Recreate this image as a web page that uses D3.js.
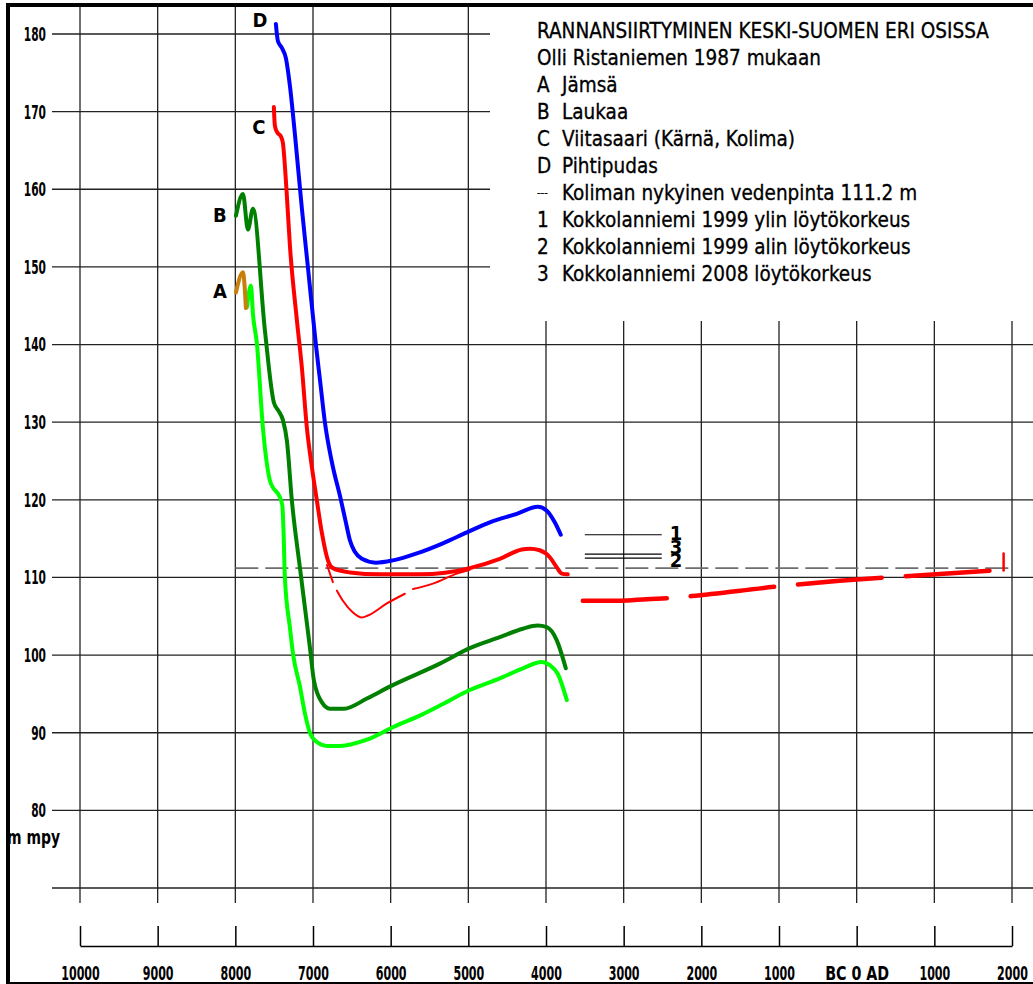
<!DOCTYPE html>
<html>
<head>
<meta charset="utf-8">
<script src="https://cdn.jsdelivr.net/npm/d3@7"></script>
<style>
  body { margin: 0; background: #fff; }
  svg { display: block; }
  .lbl { font-family: "DejaVu Sans Condensed", "DejaVu Sans", sans-serif; font-weight: bold; font-size: 20px; }
  .leg { font-family: "DejaVu Sans Condensed", "DejaVu Sans", sans-serif; font-size: 20.5px; stroke: #000; stroke-width: 0.3px; }
</style>
</head>
<body>
<div id="chart"></div>
<script>
const WIDTH = 1033;
const HEIGHT = 984;

// years: positive = BC, negative = AD
const X_TICKS = [10000, 9000, 8000, 7000, 6000, 5000, 4000, 3000, 2000, 1000, 0, -1000, -2000];
const Y_GRID = [70, 80, 90, 100, 110, 120, 130, 140, 150, 160, 170, 180];
const Y_LABELS = [80, 90, 100, 110, 120, 130, 140, 150, 160, 170, 180];

// [year BC, metres above sea level]
const jamsaOld = [[7992, 146.7], [7902, 149.3], [7864, 144.7]];
const jamsa = [[7851, 144.8], [7799, 147.6], [7773, 143.9], [7722, 140.1], [7645, 129.3], [7555, 122.5],
  [7517, 121.6], [7440, 120.6], [7395, 119.3], [7378, 115.5], [7362, 110], [7298, 103.6], [7255, 100],
  [7169, 96.0], [7100, 92.3], [7040, 90.0], [6950, 88.8], [6821, 88.3], [6654, 88.3], [6306, 89.1],
  [5972, 90.7], [5585, 92.4], [5367, 93.5], [4981, 95.5], [4595, 97.0], [4298, 98.3], [4054, 99.1],
  [3951, 98.7], [3849, 97.6], [3732, 94.2]];
const laukaa = [[7992, 156.6], [7902, 159.4], [7838, 154.8], [7773, 157.5], [7619, 141.8], [7503, 132.5],
  [7440, 131.4], [7388, 130.3], [7336, 127.6], [7272, 119.9], [7169, 111.3], [7040, 101], [6988, 96.7],
  [6885, 93.9], [6782, 93.1], [6600, 93.1], [6306, 94.4], [6000, 96.0], [5367, 98.9], [4981, 100.9],
  [4595, 102.3], [4298, 103.4], [4106, 103.8], [3990, 103.6], [3861, 101.9], [3745, 98.3]];
const viitasaari = [[7504, 170.6], [7491, 168.2], [7465, 167.4], [7413, 166.8], [7388, 166.0], [7343, 160.2],
  [7297, 152.7], [7207, 143.1], [7143, 137], [7079, 129.3], [7014, 124.2], [6950, 119.9], [6885, 115.7],
  [6808, 112.2], [6744, 111.2], [6525, 110.65], [6139, 110.4], [5624, 110.4], [5300, 110.6], [4981, 111.2],
  [4595, 112.4], [4311, 113.6], [4208, 113.7], [4080, 113.5], [3951, 112.6], [3861, 111.3], [3797, 110.5],
  [3720, 110.4]];
const viitasaariLow = [[6820, 111.6], [6744, 109.4], null, [6692, 108.3], [6615, 107.0], [6486, 105.5],
  [6371, 104.85], [6293, 105.1], [6049, 106.65], [5817, 107.9], null, [5714, 108.5], [5457, 109.2],
  [5148, 110.5], [4981, 111.0]];
const kolimaLate = [[3526, 107.0], [3050, 107.0], [2700, 107.2], [2381, 107.35], [2124, 107.6], [1004, 108.85],
  [759, 109.1], [-373, 110.0], [-631, 110.15], [-1750, 110.9]];
const kolimaMark = [[-1892, 110.9], [-1892, 113.1]];
const pihtipudas = [[7478, 181.3], [7452, 179.1], [7400, 178.2], [7349, 176.9], [7297, 173.3], [7233, 167.1],
  [7143, 157.5], [7066, 150], [6963, 140], [6905, 135], [6847, 130], [6760, 125], [6641, 120],
  [6577, 117.1], [6525, 114.8], [6461, 113.3], [6371, 112.4], [6190, 111.9], [5972, 112.2], [5663, 113.1],
  [5328, 114.4], [5019, 115.8], [4723, 117.1], [4376, 118.2], [4106, 119.1], [3990, 118.6], [3887, 117.1],
  [3810, 115.5]];

const KOLIMA_LEVEL = 111.2;
const LEVEL_SPAN = [8000, -2000];
const FIND_SPAN = [3500, 2510];
const finds = [["1", 115.5], ["3", 113.0], ["2", 112.5]];

const titleLines = ["RANNANSIIRTYMINEN KESKI-SUOMEN ERI OSISSA", "Olli Ristaniemen 1987 mukaan"];
const legendKeys = ["A", "B", "C", "D", "---", "1", "2", "3"];
const legendTexts = ["Jämsä", "Laukaa", "Viitasaari (Kärnä, Kolima)", "Pihtipudas",
  "Koliman nykyinen vedenpinta 111.2 m", "Kokkolanniemi 1999 ylin löytökorkeus",
  "Kokkolanniemi 1999 alin löytökorkeus", "Kokkolanniemi 2008 löytökorkeus"];

const svg = d3.select('#chart').append('svg')
  .attr('width', WIDTH)
  .attr('height', HEIGHT);

const x = d3.scaleLinear().domain([10000, -2000]).range([80, 1012]);
const y = d3.scaleLinear().domain([70, 180]).range([888, 34]);

// narrow drawing-office digits
function narrow(sel, perChar) {
  sel.each(function () {
    const t = d3.select(this);
    const s = t.text();
    t.attr('textLength', s === 'BC 0 AD' ? 64 : s.length * perChar).attr('lengthAdjust', 'spacingAndGlyphs');
  });
}

// grid
const grid = svg.append('g').attr('stroke', '#222').attr('stroke-width', 1.3);
grid.selectAll('line.h')
  .data(Y_GRID)
  .enter().append('line')
    .attr('x1', 52)
    .attr('x2', d => d >= 150 ? 490 : WIDTH)
    .attr('y1', d => y(d))
    .attr('y2', d => y(d));
grid.selectAll('line.v')
  .data(X_TICKS)
  .enter().append('line')
    .attr('x1', d => x(d))
    .attr('x2', d => x(d))
    .attr('y1', d => d >= 5000 ? 5 : 321)
    .attr('y2', 903);

// present water level of Kolima
svg.append('line')
  .attr('x1', x(LEVEL_SPAN[0])).attr('x2', x(LEVEL_SPAN[1]))
  .attr('y1', y(KOLIMA_LEVEL)).attr('y2', y(KOLIMA_LEVEL))
  .attr('stroke', '#6e6e6e').attr('stroke-width', 1.8)
  .attr('stroke-dasharray', '23 7');

// find heights
svg.selectAll('line.find')
  .data(finds)
  .enter().append('line')
    .attr('x1', x(FIND_SPAN[0])).attr('x2', x(FIND_SPAN[1]))
    .attr('y1', d => y(d[1])).attr('y2', d => y(d[1]))
    .attr('stroke', '#000').attr('stroke-width', 1.2);
svg.selectAll('text.find')
  .data(finds)
  .enter().append('text')
    .attr('class', 'lbl')
    .attr('font-size', '13px')
    .attr('x', x(FIND_SPAN[1]) + 8)
    .attr('y', (d, i) => y(d[1]) + [5, 0, 9][i])
    .text(d => d[0]);

const line = d3.line()
  .defined(d => d != null)
  .x(d => x(d[0]))
  .y(d => y(d[1]));

function drawSeries(data, color, width, dash, curve) {
  svg.append('path')
    .datum(data)
    .attr('fill', 'none')
    .attr('stroke', color)
    .attr('stroke-width', width)
    .attr('stroke-linecap', 'round')
    .attr('stroke-linejoin', 'round')
    .attr('stroke-dasharray', dash || null)
    .attr('d', line.curve(curve || d3.curveMonotoneX)(data));
}

drawSeries(jamsa, '#00ff00', 4);
drawSeries(jamsaOld, '#c8800a', 4);
drawSeries(laukaa, '#008000', 4);
drawSeries(viitasaariLow, '#ff0000', 2);
drawSeries(viitasaari, '#ff0000', 4);
drawSeries(kolimaLate, '#ff0000', 4.5, '84 24');
drawSeries(kolimaMark, '#ff0000', 2.5, null, d3.curveLinear);
drawSeries(pihtipudas, '#0000ff', 4);

// series letters next to the start of each curve
const seriesLabels = [["D", pihtipudas[0], -16, 3], ["C", viitasaari[0], -15, 27],
  ["B", laukaa[0], -16, 6], ["A", jamsaOld[0], -16, 5]];
svg.selectAll('text.ser')
  .data(seriesLabels)
  .enter().append('text')
    .attr('class', 'lbl')
    .attr('font-size', '17px')
    .attr('text-anchor', 'middle')
    .attr('x', d => x(d[1][0]) + d[2])
    .attr('y', d => y(d[1][1]) + d[3])
    .text(d => d[0]);

// y labels
const yAxis = svg.append('g')
  .attr('transform', 'translate(52,0)')
  .call(d3.axisLeft(y).tickValues(Y_LABELS).tickSize(0).tickPadding(6));
yAxis.select('.domain').remove();
yAxis.attr('font-family', null).attr('font-size', null);
yAxis.selectAll('text').attr('class', 'lbl').attr('fill', '#000').call(narrow, 7.4);

svg.append('text')
  .attr('class', 'lbl')
  .attr('font-size', '18px')
  .attr('x', 7).attr('y', 844)
  .attr('textLength', 53).attr('lengthAdjust', 'spacingAndGlyphs')
  .text('m  mpy');

// bottom time axis
const xAxis = svg.append('g')
  .attr('transform', 'translate(0,946)')
  .call(d3.axisBottom(x).tickValues(X_TICKS).tickSizeInner(-20).tickSizeOuter(0).tickPadding(20)
    .tickFormat(d => d === 0 ? 'BC 0 AD' : String(Math.abs(d))));
xAxis.attr('font-family', null).attr('font-size', null);
xAxis.select('.domain').attr('stroke-width', 1.5);
xAxis.selectAll('line').attr('stroke-width', 1.5);
xAxis.selectAll('text').attr('class', 'lbl').attr('fill', '#000').call(narrow, 7.7);

// legend
const leg = svg.append('g').attr('class', 'leg');
leg.selectAll('text.title')
  .data(titleLines)
  .enter().append('text')
    .attr('x', 537)
    .attr('y', (d, i) => 38 + i * 27)
    .text(d => d);
leg.selectAll('text.key')
  .data(legendKeys)
  .enter().append('text')
    .attr('x', 537)
    .attr('y', (d, i) => 92 + i * 27)
    .attr('font-size', d => d === '---' ? '11px' : null)
    .attr('dy', d => d === '---' ? -4 : 0)
    .text(d => d);
leg.selectAll('text.desc')
  .data(legendTexts)
  .enter().append('text')
    .attr('x', 562)
    .attr('y', (d, i) => 92 + i * 27)
    .text(d => d);

// frame
svg.append('line').attr('x1', 6).attr('x2', WIDTH).attr('y1', 5).attr('y2', 5)
  .attr('stroke', '#000').attr('stroke-width', 4);
svg.append('line').attr('x1', 8).attr('x2', 8).attr('y1', 3).attr('y2', HEIGHT)
  .attr('stroke', '#000').attr('stroke-width', 4);
svg.append('line').attr('x1', 6).attr('x2', WIDTH).attr('y1', 983).attr('y2', 983)
  .attr('stroke', '#000').attr('stroke-width', 2);
</script>
</body>
</html>
